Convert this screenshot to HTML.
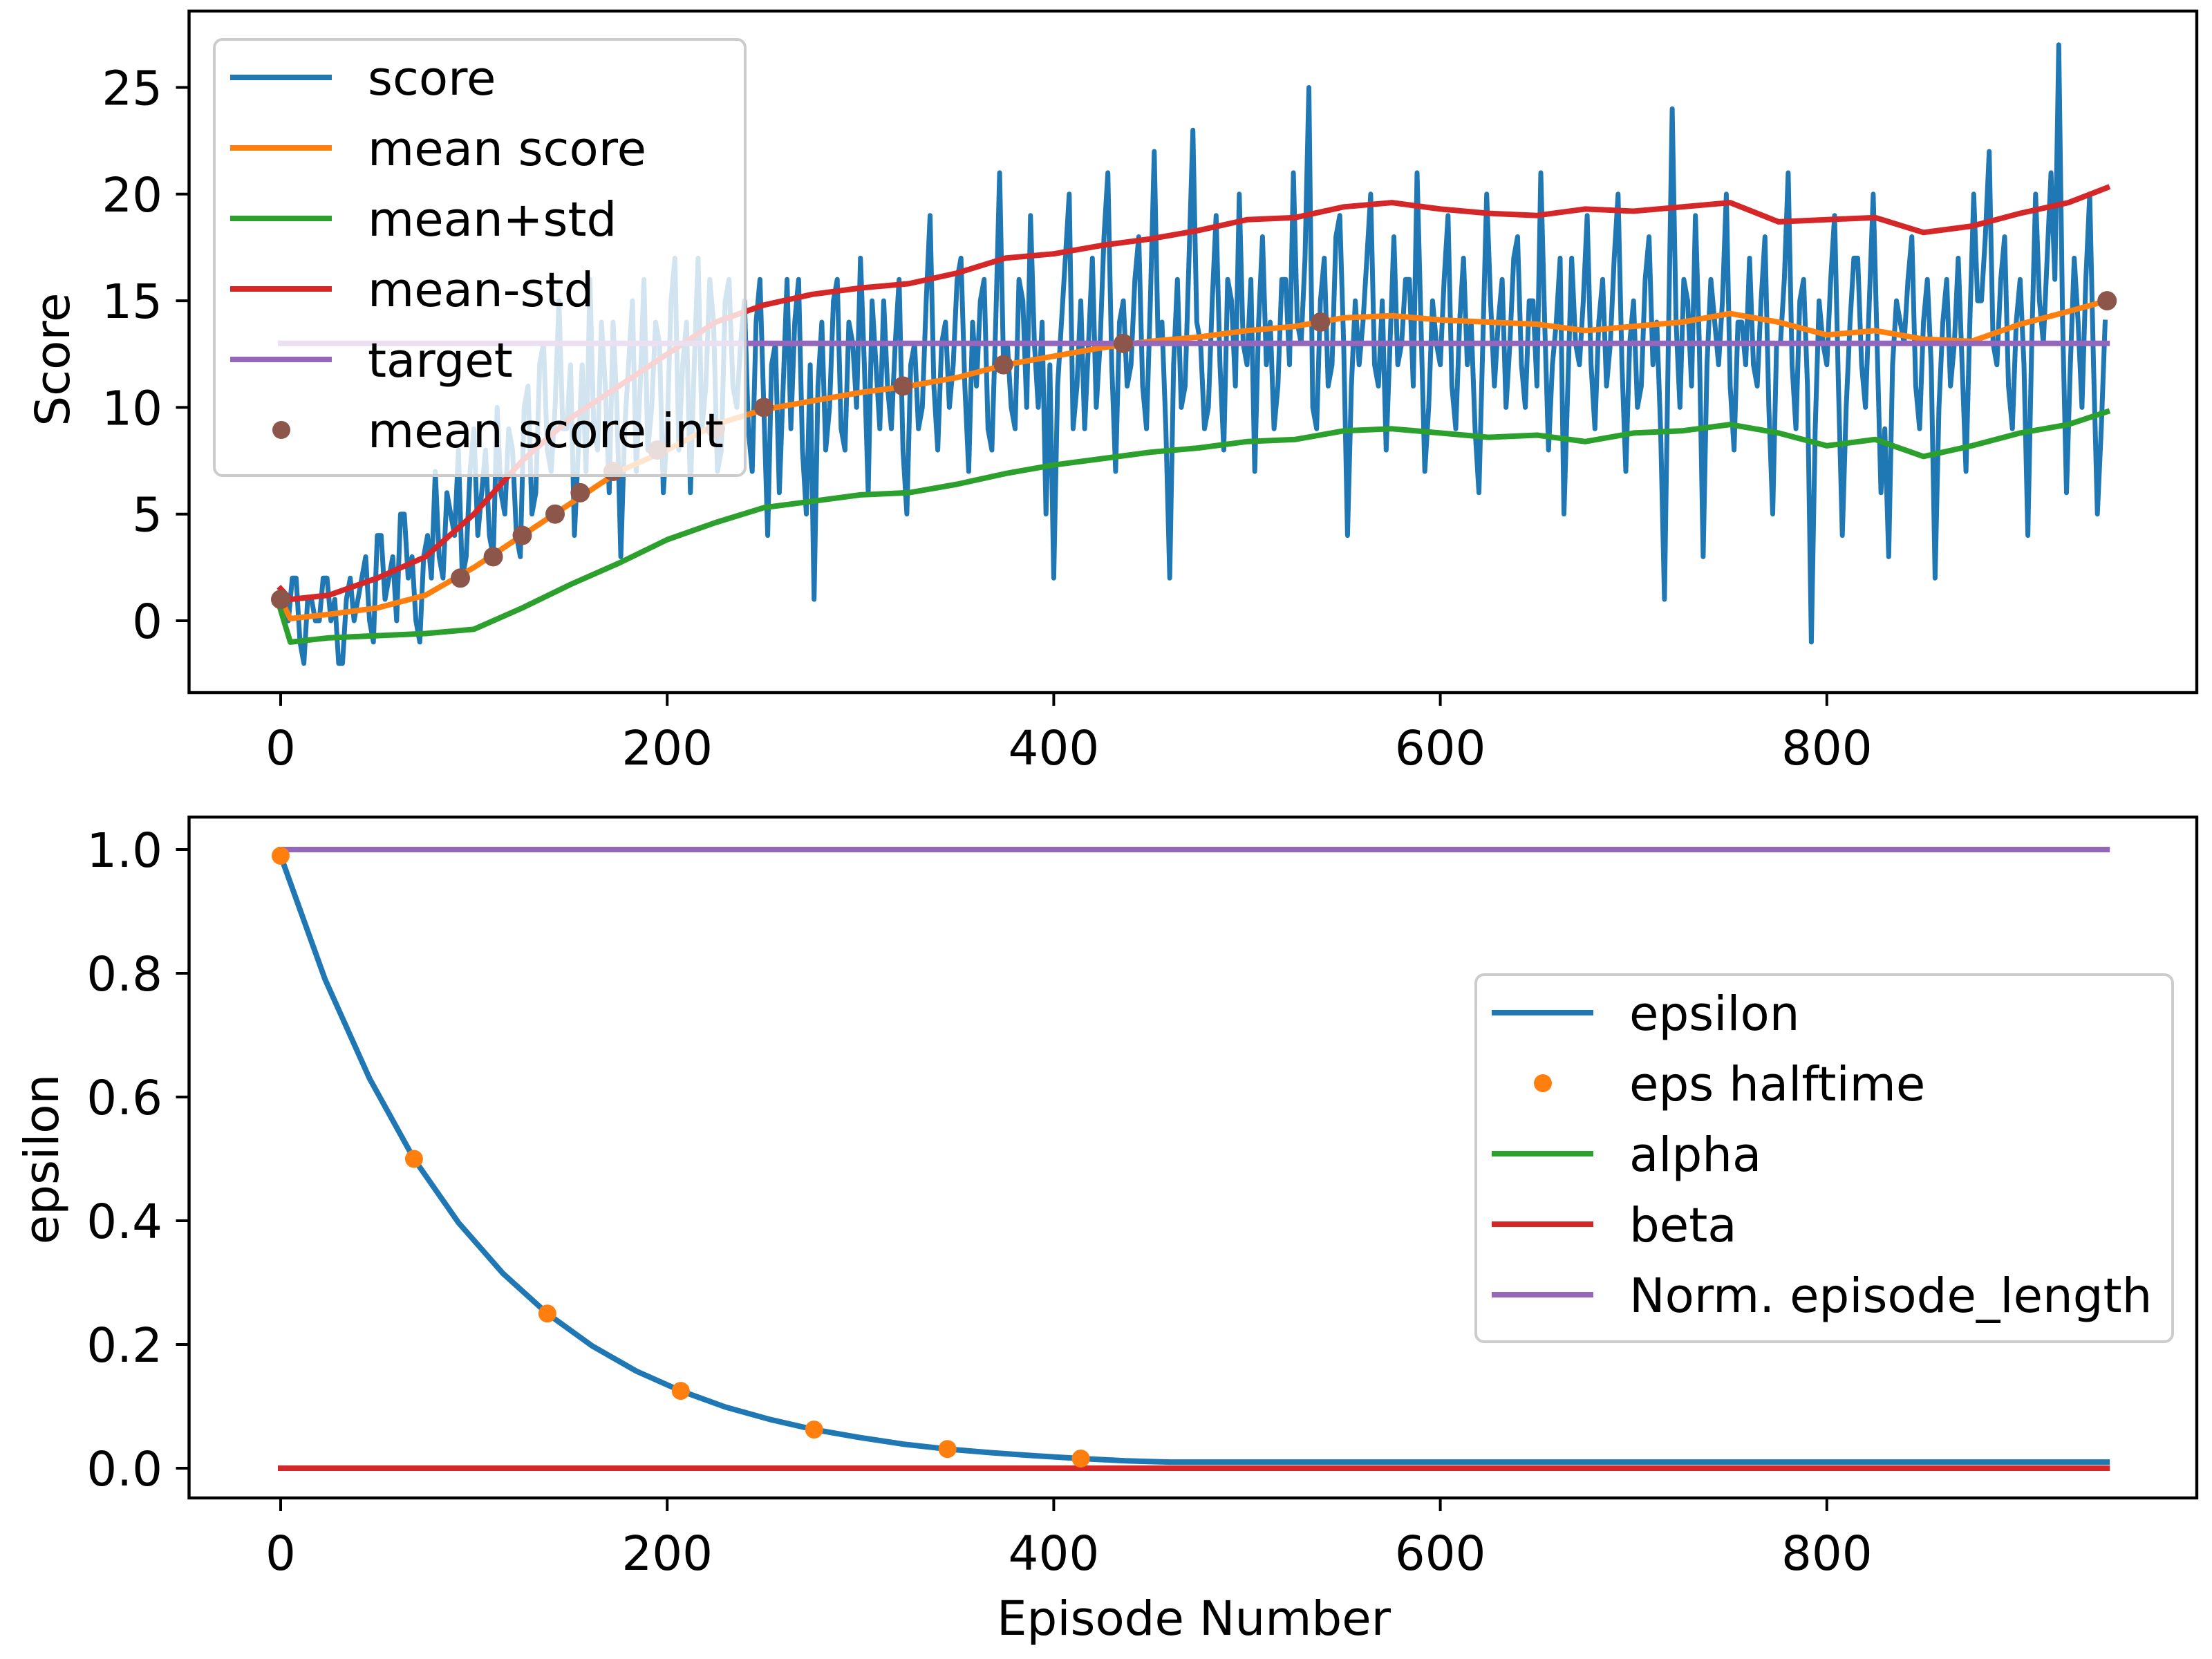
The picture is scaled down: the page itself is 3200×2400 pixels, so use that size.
<!DOCTYPE html>
<html><head><meta charset="utf-8"><style>
html,body{margin:0;padding:0;background:#fff}
svg{display:block;font-family:"DejaVu Sans","Liberation Sans",sans-serif}
</style></head><body>
<svg id="fig" width="3200" height="2400" viewBox="0 0 3200 2400" xmlns="http://www.w3.org/2000/svg">
<rect width="3200" height="2400" fill="#fff"/>
</svg>
<script>
const xTicks=[0,200,400,600,800];
const scoreTicks=[0,5,10,15,20,25];
const epsTicks=[0.0,0.2,0.4,0.6,0.8,1.0];
const epsTickLabels=["0.0","0.2","0.4","0.6","0.8","1.0"];
const scoreStep=2;
const scores=[1,0,0,2,2,-1,-2,1,1,0,0,2,2,0,1,-2,-2,1,2,0,
1,2,3,0,-1,4,4,1,2,3,0,5,5,2,3,0,-1,3,4,2,
7,3,2,6,5,4,8,2,3,7,9,4,6,8,4,3,10,6,5,9,
8,4,3,10,11,5,6,12,13,8,7,10,15,9,9,12,4,8,12,7,
16,9,8,14,11,6,14,10,3,9,12,15,7,11,16,8,10,14,13,6,
9,15,17,8,12,14,6,12,17,9,11,16,14,7,8,15,16,11,10,13,
15,9,7,14,16,10,4,12,13,6,11,16,9,14,16,8,5,12,1,11,
14,8,10,15,16,9,8,14,13,10,17,12,6,15,12,9,15,11,9,13,
16,8,5,12,13,9,10,15,19,11,8,13,14,10,12,16,17,11,7,14,
11,15,16,9,8,14,21,12,13,10,9,16,15,10,19,13,10,14,5,12,
2,11,14,17,20,9,11,15,9,13,17,10,13,18,21,12,7,14,15,11,
12,16,18,11,9,15,22,13,14,9,2,12,16,10,11,17,23,14,13,9,
10,15,19,12,8,16,15,11,20,13,12,16,7,14,18,12,14,9,11,16,
16,12,21,14,13,17,25,10,9,15,17,11,12,18,19,13,4,11,15,12,
14,17,20,12,11,15,8,13,18,12,13,16,16,11,21,14,7,10,15,13,
12,16,19,11,9,14,17,12,14,9,6,13,20,15,11,14,16,10,13,17,
18,12,10,15,15,11,21,14,8,12,14,17,5,11,17,13,12,15,19,12,
9,14,16,11,13,17,20,12,7,13,15,10,11,16,18,12,14,9,1,13,
24,14,10,16,15,11,19,13,3,12,16,14,12,15,20,11,8,14,14,12,
17,12,11,15,18,10,5,13,13,16,21,12,9,15,16,11,-1,9,15,13,
12,16,19,11,4,10,14,17,17,12,10,15,20,13,6,9,3,12,15,14,
13,16,18,11,9,14,16,12,2,10,14,16,11,13,17,12,7,14,20,15,
15,18,22,13,12,16,18,11,9,14,16,12,4,13,20,15,13,17,21,16,
27,14,6,12,17,14,10,16,20,12,5,9,14];
const statX=[0,5,25,50,75,100,125,150,175,200,225,250,275,300,325,350,375,400,425,450,475,500,525,550,575,600,625,650,675,700,725,750,775,800,825,850,875,900,925,945];
const meanScore=[1,0.1,0.3,0.6,1.2,2.5,4,5.5,7,8,9.2,9.9,10.3,10.7,11,11.4,12,12.4,12.8,13.1,13.3,13.6,13.8,14.2,14.3,14.1,14,13.9,13.6,13.8,14.0,14.4,14.0,13.4,13.6,13.2,13.1,13.9,14.5,15];
const meanPlusStd=[0.5,-1,-0.8,-0.7,-0.6,-0.4,0.6,1.7,2.7,3.8,4.6,5.3,5.6,5.9,6.0,6.4,6.9,7.3,7.6,7.9,8.1,8.4,8.5,8.9,9.0,8.8,8.6,8.7,8.4,8.8,8.9,9.2,8.8,8.2,8.5,7.7,8.2,8.8,9.2,9.8];
const meanMinusStd=[1.5,1.0,1.2,2,3,5,7.5,9.5,11,12.5,14,14.8,15.3,15.6,15.8,16.3,17,17.2,17.6,17.9,18.3,18.8,18.9,19.4,19.6,19.3,19.1,19.0,19.3,19.2,19.4,19.6,18.7,18.8,18.9,18.2,18.5,19.1,19.6,20.3];
const targetX=[0,945];
const targetY=[13,13];
const intX=[0,93,110,125,142,155,172,195,225,250,322,374,436,538,945];
const intY=[1,2,3,4,5,6,7,8,9,10,11,12,13,14,15];
const epsX=[0,23,46,69,92,115,138,161,184,207,230,253,276,299,322,345,368,391,414,437,460,500,600,700,800,945];
const epsilon=[0.99,0.79,0.63,0.5,0.397,0.315,0.25,0.198,0.157,0.125,0.099,0.079,0.0625,0.05,0.039,0.031,0.025,0.02,0.0156,0.012,0.01,0.01,0.01,0.01,0.01,0.01];
const halfX=[0,69,138,207,276,345,414];
const halfY=[0.99,0.5,0.25,0.125,0.0625,0.031,0.0156];
const lineX=[0,945];
const alphaY=[0,0];
const betaY=[0,0];
const lenY=[1,1];

const NS="http://www.w3.org/2000/svg";
const svg=document.getElementById('fig');
const FS=69;
function el(tag,attrs,parent){const e=document.createElementNS(NS,tag);for(const k in attrs)e.setAttribute(k,attrs[k]);(parent||svg).appendChild(e);return e;}
const X=v=>406+v*2.796;
const Y1=v=>898-v*30.86;
const Y2=v=>2124-v*895;
const C={blue:"#1f77b4",orange:"#ff7f0e",green:"#2ca02c",red:"#d62728",purple:"#9467bd",brown:"#8c564b"};
function poly(xs,ys,yf,color,name,w){
  const p=el('polyline',{points:xs.map((x,i)=>X(x).toFixed(1)+','+yf(ys[i]).toFixed(1)).join(' '),fill:'none',stroke:color,'stroke-width':w||8,'stroke-linejoin':'round','stroke-linecap':'square'});
  
  
}
function dots(xs,ys,yf,color,name,r){
  const g=el('g',{});
  
  
  xs.forEach((x,i)=>{const c=el('circle',{cx:X(x),cy:yf(ys[i]),r:r,fill:color},g);
    
    });
}
function axes(top,bottom,yf,ticks,labels,name){
  const g=el('g',{});
  
  
  xTicks.forEach(t=>{el('line',{x1:X(t),x2:X(t),y1:bottom,y2:bottom+19,stroke:'#000','stroke-width':4},g);
    const tx=el('text',{x:X(t),y:bottom+104,'font-size':FS,'text-anchor':'middle'},g);tx.textContent=t;
    
    });
  ticks.forEach((t,i)=>{el('line',{x1:273.5,x2:254.5,y1:yf(t),y2:yf(t),stroke:'#000','stroke-width':4},g);
    const tx=el('text',{x:235,y:yf(t)+25,'font-size':FS,'text-anchor':'end'},g);tx.textContent=labels[i];
    
    });
}
function frame(top,bottom,name){
  const r=el('rect',{x:273.5,y:top,width:2904.5,height:bottom-top,fill:'none',stroke:'#000','stroke-width':4.4});
  
  
}
function legend(x,y,w,h,entries,name){
  const g=el('g',{});
  
  
  el('rect',{x:x,y:y,width:w,height:h,rx:12,fill:'#fff','fill-opacity':0.8,stroke:'#cccccc','stroke-width':4},g);
  entries.forEach((e,i)=>{const cy=y+55+i*102;
    if(e.dot){el('circle',{cx:x+97,cy:cy,r:13,fill:e.c},g);}
    else el('line',{x1:x+23,x2:x+170,y1:cy,y2:cy,stroke:e.c,'stroke-width':8},g);
    const t=el('text',{x:x+222,y:cy+25,'font-size':FS},g);t.textContent=e.t;
    
    });
}
// Top plot
const sx=scores.map((_,i)=>Math.min(i*scoreStep,945));
poly(sx,scores,Y1,C.blue,'score-line',7);
poly(statX,meanScore,Y1,C.orange,'mean-score-line',8);
poly(statX,meanPlusStd,Y1,C.green,'mean-plus-std-line',8);
poly(statX,meanMinusStd,Y1,C.red,'mean-minus-std-line',8);
poly(targetX,targetY,Y1,C.purple,'target-line',8);
dots(intX,intY,Y1,C.brown,'mean-score-int',14);
frame(16,1002,'score-plot-frame');
axes(16,1002,Y1,scoreTicks,scoreTicks.map(String),'score');
legend(310,57,768,631,[{t:'score',c:C.blue},{t:'mean score',c:C.orange},{t:'mean+std',c:C.green},{t:'mean-std',c:C.red},{t:'target',c:C.purple},{t:'mean score int',c:C.brown,dot:1}],'score-legend');
// Bottom plot
poly(lineX,lenY,Y2,C.purple,'episode-length-line',8);
poly(lineX,alphaY,Y2,C.green,'alpha-line',8);
poly(epsX,epsilon,Y2,C.blue,'epsilon-line',8);
poly(lineX,betaY,Y2,C.red,'beta-line',8);
dots(halfX,halfY,Y2,C.orange,'eps-halftime',13);
frame(1182,2167,'epsilon-plot-frame');
axes(1182,2167,Y2,epsTicks,epsTickLabels,'epsilon');
legend(2135,1410,1008,531,[{t:'epsilon',c:C.blue},{t:'eps halftime',c:C.orange,dot:1},{t:'alpha',c:C.green},{t:'beta',c:C.red},{t:'Norm. episode_length',c:C.purple}],'epsilon-legend');
// Axis titles
let t=el('text',{x:0,y:0,'font-size':FS,'text-anchor':'middle',transform:'translate(100,520) rotate(-90)'});t.textContent='Score';


t=el('text',{x:0,y:0,'font-size':FS,'text-anchor':'middle',transform:'translate(84,1677) rotate(-90)'});t.textContent='epsilon';


t=el('text',{x:1727,y:2365,'font-size':FS,'text-anchor':'middle'});t.textContent='Episode Number';


</script>
</body></html>
